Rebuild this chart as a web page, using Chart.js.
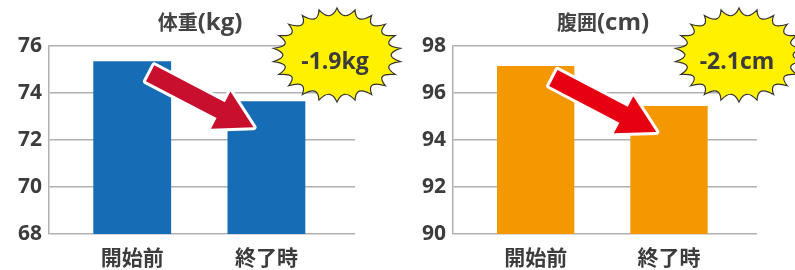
<!DOCTYPE html>
<html>
<head>
<meta charset="utf-8">
<script src="https://cdn.jsdelivr.net/npm/chart.js@4"></script>
<style>
    html, body { margin: 0; padding: 0; background: #fff; }
    #wrap { position: relative; width: 795px; height: 270px; overflow: hidden; }
    canvas { position: absolute; top: 0; }
</style>
</head>
<body>
<div id="wrap">
    <canvas id="weightChart" width="404" height="270" style="left:0"></canvas>
    <canvas id="waistChart" width="391" height="270" style="left:404px"></canvas>
</div>
<script>
// Before / after values
const categories = ['開始前', '終了時'];
const weightValues = [75.35, 73.65];
const waistValues = [97.15, 95.45];
const weightTicks = [68, 70, 72, 74, 76];
const waistTicks = [90, 92, 94, 96, 98];
const weightChange = '-1.9kg';
const waistChange = '-2.1cm';

const FONT = '"Open Sans", "Noto Sans CJK JP", sans-serif';
const CJK = '"Noto Sans CJK JP", sans-serif';
const TEXT = '#3c3c3c';
const GRID = '#b0b0b0';

// Title drawn in two runs: CJK part smaller, latin unit part larger (like Meiryo)
const titlePlugin = {
    id: 'splitTitle',
    afterDraw(chart, args, opts) {
        const ctx = chart.ctx;
        const cut = opts.text.indexOf('(');
        const head = opts.text.slice(0, cut), unit = opts.text.slice(cut);
        ctx.save();
        ctx.fillStyle = '#444';
        ctx.textBaseline = 'alphabetic';
        ctx.font = 'bold 20px ' + CJK;
        const w1 = ctx.measureText(head).width;
        ctx.font = 'bold 24px "Open Sans"';
        const w2 = ctx.measureText(unit).width;
        const area = chart.chartArea;
        const x0 = (area.left + area.right) / 2 - (w1 + w2) / 2 - 2;
        const y = area.top - 16;
        ctx.font = 'bold 20px ' + CJK;
        ctx.textAlign = 'left';
        ctx.fillText(head, x0, y);
        ctx.font = 'bold 24px "Open Sans"';
        ctx.fillText(unit, x0 + w1, y);
        ctx.restore();
    }
};

// Red arrow from first bar to second bar + yellow burst label
const calloutPlugin = {
    id: 'callout',
    afterDatasetsDraw(chart, args, opts) {
        const bars = chart.getDatasetMeta(0).data;
        const b1 = bars[0], b2 = bars[1];
        const tail = { x: b1.x + b1.width / 2 - 21, y: b1.y + 12 };
        const tip = { x: b2.x - b2.width / 2 + 26, y: b2.y + 26 };
        const len = Math.hypot(tip.x - tail.x, tip.y - tail.y);
        const ang = Math.atan2(tip.y - tail.y, tip.x - tail.x);
        const ctx = chart.ctx;
        ctx.save();
        ctx.translate(tail.x, tail.y);
        ctx.rotate(ang);
        ctx.beginPath();
        ctx.moveTo(0, -9);
        ctx.lineTo(len - 37, -9);
        ctx.lineTo(len - 37, -21);
        ctx.lineTo(len, 0);
        ctx.lineTo(len - 37, 21);
        ctx.lineTo(len - 37, 9);
        ctx.lineTo(0, 9);
        ctx.closePath();
        ctx.lineJoin = 'round';
        ctx.lineWidth = 6;
        ctx.strokeStyle = '#ffffff';
        ctx.stroke();
        ctx.fillStyle = opts.arrowColor;
        ctx.fill();
        ctx.restore();
    },
    afterDraw(chart, args, opts) {
        const area = chart.chartArea;
        const cx = area.right - 18, cy = area.top + 9;
        const rx = 64, ry = 47, spikes = 22;
        const ctx = chart.ctx;
        ctx.save();
        ctx.beginPath();
        for (let i = 0; i <= spikes; i++) {
            const a = -Math.PI / 2 + i * 2 * Math.PI / spikes;
            const px = cx + rx * Math.cos(a), py = cy + ry * Math.sin(a);
            if (i === 0) {
                ctx.moveTo(px, py);
            } else {
                const m = a - Math.PI / spikes;
                ctx.quadraticCurveTo(cx + rx * 0.7 * Math.cos(m), cy + ry * 0.7 * Math.sin(m), px, py);
            }
        }
        ctx.closePath();
        ctx.fillStyle = '#fff100';
        ctx.fill();
        ctx.lineWidth = 1.2;
        ctx.strokeStyle = '#333';
        ctx.stroke();
        ctx.fillStyle = TEXT;
        ctx.font = 'bold 23px ' + FONT;
        ctx.textAlign = 'center';
        ctx.textBaseline = 'alphabetic';
        ctx.fillText(opts.label, cx - 2, cy + 14);
        ctx.restore();
    }
};

function makeChart(id, title, values, ticks, color, arrowColor, label, padRight) {
    const ctx = document.getElementById(id).getContext('2d');
    return new Chart(ctx, {
        type: 'bar',
        data: {
            datasets: [{
                data: values.map((v, i) => ({ x: i, y: v })),
                backgroundColor: color,
                borderWidth: 0,
                barPercentage: 0.58,
                categoryPercentage: 1
            }]
        },
        options: {
            responsive: false,
            animation: false,
            layout: { padding: { left: 0, right: padRight, top: 46, bottom: 0 } },
            scales: {
                x: {
                    type: 'linear',
                    offset: false,
                    bounds: 'data',
                    min: -0.62,
                    max: 1.66,
                    afterBuildTicks: s => { s.ticks = categories.map((_, i) => ({ value: i })); },
                    afterFit: s => { s.height = 36; },
                    grid: { display: false, drawTicks: false },
                    border: { display: false },
                    ticks: {
                        callback: v => categories[v],
                        font: { family: FONT, size: 21, weight: 'bold' },
                        color: TEXT,
                        padding: 12,
                        maxRotation: 0,
                        autoSkip: false
                    }
                },
                y: {
                    min: ticks[0],
                    max: ticks[ticks.length - 1],
                    afterBuildTicks: s => { s.ticks = ticks.map(v => ({ value: v })); },
                    afterFit: s => { s.width = 49; },
                    grid: { color: GRID, lineWidth: 1.5, drawTicks: false },
                    border: { display: true, color: GRID, width: 1.5 },
                    ticks: {
                        font: { family: FONT, size: 21, weight: 'bold' },
                        color: TEXT,
                        padding: 7
                    }
                }
            },
            plugins: {
                legend: { display: false },
                tooltip: { enabled: false },
                title: { display: false },
                splitTitle: { text: title },
                callout: { arrowColor, label }
            }
        },
        plugins: [calloutPlugin, titlePlugin]
    });
}

makeChart('weightChart', '体重(kg)', weightValues, weightTicks, '#166db5', '#c8102e', weightChange, 49);
makeChart('waistChart', '腹囲(cm)', waistValues, waistTicks, '#f39800', '#e60012', waistChange, 38);
</script>
</body>
</html>
